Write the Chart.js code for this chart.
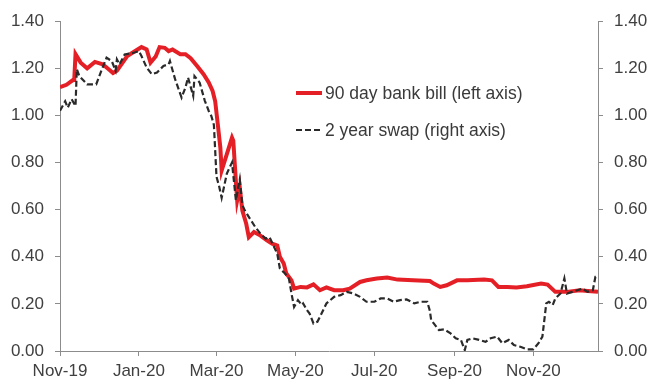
<!DOCTYPE html>
<html>
<head>
<meta charset="utf-8">
<script src="https://cdn.jsdelivr.net/npm/chart.js@4"></script>
<style>
  body { margin: 0; background: #fff; }
  #wrap { position: relative; width: 653px; height: 383px; }
  .key { position: absolute; left: 296px; font: 17.5px "Liberation Sans", Arial, sans-serif; color: #3a3a3a; line-height: 20px; white-space: nowrap; }
  .sw { display: inline-block; vertical-align: middle; margin-right: 3px; }
</style>
</head>
<body>
<div id="wrap">
  <canvas id="myChart" width="653" height="383"></canvas>
  <div class="key" style="top:83px"><span class="sw" style="width:26px;border-top:4px solid #e41f26;margin-top:-3px"></span>90 day bank bill (left axis)</div>
  <div class="key" style="top:120px"><span class="sw" style="width:24px;border-top:2px dashed #2a2a2a;margin-top:-2px;margin-right:5px"></span>2 year swap (right axis)</div>
</div>
<script>
// days counted from 1 Nov 2019
const tickDays = [0, 61, 121, 182, 243, 305, 366];
const tickLabels = ['Nov-19', 'Jan-20', 'Mar-20', 'May-20', 'Jul-20', 'Sep-20', 'Nov-20'];

const billDays = [0, 5, 10, 11, 12, 16, 21, 27, 33, 39, 41, 44, 52, 60, 63, 67, 70, 74, 77, 81, 84, 87, 93, 97, 101, 106, 111, 115, 118, 120, 122, 124, 125, 129, 133, 134, 136, 137, 139, 141, 144, 146, 150, 155, 160, 164, 168, 170, 173, 175, 179, 181, 186, 191, 196, 201, 206, 212, 219, 224, 232, 237, 245, 253, 261, 273, 286, 289, 294, 299, 307, 315, 328, 334, 339, 346, 353, 361, 372, 377, 383, 392, 402, 408, 416];
const billValues = [1.12, 1.13, 1.15, 1.15, 1.26, 1.224, 1.20, 1.227, 1.217, 1.19, 1.18, 1.19, 1.252, 1.28, 1.29, 1.28, 1.224, 1.25, 1.29, 1.287, 1.273, 1.28, 1.26, 1.26, 1.243, 1.21, 1.175, 1.14, 1.104, 1.06, 0.963, 0.863, 0.766, 0.836, 0.906, 0.893, 0.72, 0.64, 0.695, 0.596, 0.54, 0.483, 0.505, 0.49, 0.47, 0.456, 0.448, 0.40, 0.371, 0.329, 0.30, 0.265, 0.272, 0.27, 0.283, 0.258, 0.27, 0.258, 0.258, 0.265, 0.293, 0.30, 0.308, 0.312, 0.303, 0.30, 0.297, 0.286, 0.272, 0.279, 0.30, 0.30, 0.303, 0.30, 0.272, 0.272, 0.27, 0.275, 0.286, 0.282, 0.251, 0.251, 0.258, 0.255, 0.251];

const swapDays = [0, 4, 6, 9, 12, 13, 15, 21, 28, 32, 36, 40, 43, 44, 46, 50, 57, 61, 63, 67, 71, 75, 80, 84, 85, 89, 94, 97, 99, 103, 104, 108, 112, 115, 117, 119, 121, 123, 125, 129, 133, 136, 139, 141, 143, 147, 151, 155, 159, 162, 165, 168, 170, 174, 177, 179, 181, 184, 187, 188, 191, 193, 196, 199, 201, 206, 212, 217, 222, 227, 232, 237, 243, 248, 253, 258, 263, 268, 274, 279, 284, 286, 287, 289, 293, 297, 302, 306, 310, 313, 315, 319, 324, 329, 333, 338, 342, 347, 351, 356, 361, 366, 370, 373, 376, 378, 381, 383, 387, 390, 392, 396, 400, 404, 408, 412, 414, 416];
const swapValues = [1.02, 1.06, 1.033, 1.069, 1.04, 1.196, 1.167, 1.132, 1.132, 1.19, 1.245, 1.231, 1.19, 1.238, 1.217, 1.259, 1.266, 1.273, 1.252, 1.203, 1.175, 1.182, 1.21, 1.217, 1.231, 1.154, 1.076, 1.118, 1.161, 1.083, 1.167, 1.139, 1.062, 1.019, 0.998, 0.96, 0.74, 0.70, 0.65, 0.753, 0.80, 0.64, 0.728, 0.62, 0.596, 0.56, 0.526, 0.498, 0.477, 0.483, 0.448, 0.413, 0.35, 0.329, 0.308, 0.244, 0.187, 0.216, 0.195, 0.202, 0.173, 0.159, 0.117, 0.124, 0.145, 0.202, 0.23, 0.237, 0.251, 0.244, 0.23, 0.209, 0.209, 0.223, 0.223, 0.209, 0.216, 0.219, 0.202, 0.209, 0.209, 0.17, 0.131, 0.117, 0.089, 0.092, 0.075, 0.054, 0.047, 0.004, 0.047, 0.054, 0.047, 0.039, 0.054, 0.061, 0.033, 0.047, 0.025, 0.018, 0.007, 0.007, 0.033, 0.061, 0.202, 0.209, 0.195, 0.223, 0.244, 0.308, 0.244, 0.251, 0.258, 0.265, 0.251, 0.258, 0.315, 0.322];

const toPoints = (xs, ys) => xs.map((x, i) => ({ x: x, y: ys[i] }));

const axisGrey = '#8c8c8c';
const tickFont = { family: '"Liberation Sans", Arial, sans-serif', size: 17 };

const yAxis = (pos, width) => ({
  type: 'linear',
  position: pos,
  min: 0,
  max: 1.4,
  border: { color: axisGrey, width: 1 },
  grid: { drawOnChartArea: false, drawTicks: true, tickLength: 5, color: axisGrey },
  ticks: { stepSize: 0.2, padding: 11, color: '#404040', font: tickFont, callback: (v) => v.toFixed(2) },
  afterFit: (scale) => { scale.width = width; }
});

const ctx = document.getElementById('myChart');
new Chart(ctx, {
  type: 'line',
  data: {
    datasets: [
      {
        label: '2 year swap (right axis)',
        data: toPoints(swapDays, swapValues),
        yAxisID: 'y2',
        borderColor: '#2a2a2a',
        borderWidth: 2.2,
        borderDash: [6, 3],
        pointRadius: 0,
        order: 1
      },
      {
        label: '90 day bank bill (left axis)',
        data: toPoints(billDays, billValues),
        yAxisID: 'y',
        borderColor: '#e41f26',
        borderWidth: 4,
        pointRadius: 0,
        order: 2
      }
    ]
  },
  options: {
    responsive: false,
    animation: false,
    devicePixelRatio: 1,
    layout: { padding: { top: 20, left: 0, right: 0, bottom: 0 } },
    plugins: { legend: { display: false }, tooltip: { enabled: false } },
    scales: {
      x: {
        type: 'linear',
        min: 0,
        max: 416,
        border: { color: axisGrey, width: 1 },
        grid: { drawOnChartArea: false, drawTicks: true, tickLength: 5, color: axisGrey },
        ticks: {
          padding: 5,
          color: '#404040',
          font: tickFont,
          maxRotation: 0,
          callback: (v) => tickLabels[tickDays.indexOf(v)]
        },
        afterBuildTicks: (scale) => { scale.ticks = tickDays.map((d) => ({ value: d })); },
        afterFit: (scale) => { scale.height = 32; }
      },
      y: yAxis('left', 60),
      y2: yAxis('right', 55)
    }
  }
});
</script>
</body>
</html>
